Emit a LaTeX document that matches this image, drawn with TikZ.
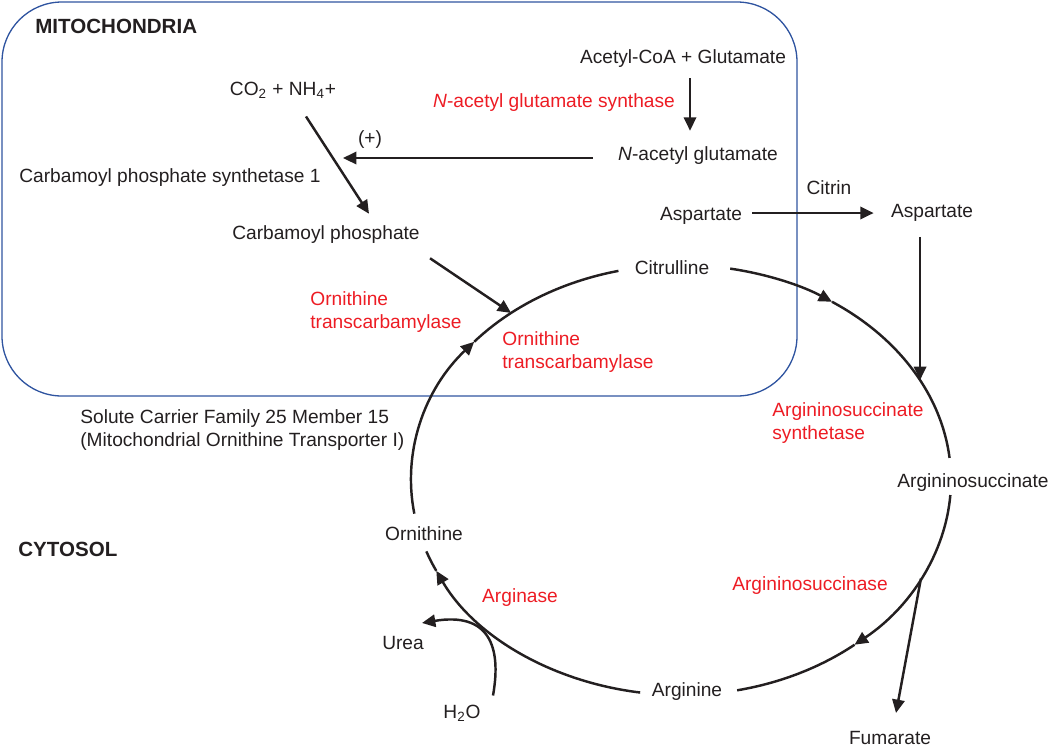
\documentclass[tikz,border=0pt]{standalone}
\usepackage{fontspec}
\setmainfont{Liberation Sans}
\usetikzlibrary{arrows.meta}

\definecolor{enzred}{RGB}{237,28,36}
\definecolor{mitoblue}{RGB}{47,84,160}
\definecolor{ink}{RGB}{35,31,32}

\tikzset{
	lbl/.style={inner sep=0pt, text=ink, font=\fontsize{10.9}{12.8}\selectfont},
	enz/.style={lbl, text=enzred},
	region/.style={lbl, font=\bfseries\fontsize{11.7}{13}\selectfont},
	rxn/.style={-{Triangle[length=7.6pt, width=7pt]}, ink, line width=1.4pt},
	plain/.style={-, ink, line width=1.4pt},
	mito/.style={mitoblue, line width=0.75pt, rounded corners=1.2cm},
	orbit/.style={x radius=270, y radius=215},
}

\begin{document}
\begin{tikzpicture}[x=0.02cm, y=-0.02cm]
	\useasboundingbox (0, 0) rectangle (1050, 748);

	\draw[mito]	(2, 2) rectangle (797, 396);

	\node[region, anchor=west] (mitolbl) at (35, 26) {MITOCHONDRIA};
	\node[region, anchor=west] (cytolbl) at (18, 549) {CYTOSOL};

	\node[lbl] (co2)	at (283, 90) {CO\textsubscript{2} + NH\textsubscript{4}+};
	\node[lbl] (acoa)	at (683, 59) {Acetyl-CoA + Glutamate};
	\node[enz] (nags)	at (554, 103) {\textit{N}-acetyl glutamate synthase};
	\node[lbl] (nag)	at (698, 156) {\textit{N}-acetyl glutamate};
	\node[lbl] (plus)	at (370, 140) {(+)};
	\node[lbl] (cps)	at (170, 178) {Carbamoyl phosphate synthetase 1};
	\node[lbl] (cp)		at (326, 235) {Carbamoyl phosphate};
	\node[lbl] (aspm)	at (701, 216) {Aspartate};
	\node[lbl] (citrin)	at (829, 188) {Citrin};
	\node[lbl] (aspc)	at (932, 213) {Aspartate};
	\node[lbl] (cit)	at (672, 268) {Citrulline};
	\node[enz, anchor=west, align=left] (otcm) at (310, 312) {Ornithine\\transcarbamylase};
	\node[enz, anchor=west, align=left] (otcc) at (502, 352) {Ornithine\\transcarbamylase};
	\node[lbl, anchor=west, align=left] (slc) at (80, 430) {Solute Carrier Family 25 Member 15\\(Mitochondrial Ornithine Transporter I)};
	\node[enz, anchor=west, align=left] (ass) at (772, 423) {Argininosuccinate\\synthetase};
	\node[lbl] (asa)	at (973, 483) {Argininosuccinate};
	\node[lbl] (orn)	at (424, 534) {Ornithine};
	\node[enz] (asl)	at (810, 586) {Argininosuccinase};
	\node[enz] (arg1)	at (520, 598) {Arginase};
	\node[lbl] (urea)	at (403, 643) {Urea};
	\node[lbl] (h2o)	at (462, 713) {H\textsubscript{2}O};
	\node[lbl] (arg)	at (687, 692) {Arginine};
	\node[lbl] (fum)	at (890, 738) {Fumarate};

	\coordinate (cyc) at (681, 480);
	\path (cyc) ++(-129:270 and 215) coordinate (cpin);
	\path (cyc) ++(-27.7:270 and 215) coordinate (aspin);
	\path (cyc) ++(27.3:270 and 215) coordinate (fumout);
	\coordinate (cpsin) at (343, 158);

	\draw[rxn]	(cyc) ++(-79.5:270 and 215) arc[orbit, start angle=-79.5, end angle=-56];
	\draw[plain]	(cyc) ++(-56:270 and 215) arc[orbit, start angle=-56, end angle=-5.9];
	\draw[rxn]	(cyc) ++(4:270 and 215) arc[orbit, start angle=4, end angle=50];
	\draw[plain]	(cyc) ++(50:270 and 215) arc[orbit, start angle=50, end angle=78];
	\draw[rxn]	(cyc) ++(98.7:270 and 215) arc[orbit, start angle=98.7, end angle=155];
	\draw[plain]	(cyc) ++(155:270 and 215) arc[orbit, start angle=155, end angle=160.6];
	\draw[rxn]	(cyc) ++(171:270 and 215) arc[orbit, start angle=171, end angle=220];
	\draw[plain]	(cyc) ++(220:270 and 215) arc[orbit, start angle=220, end angle=256.6];

	\draw[rxn]	([shift={(7, 10)}]acoa.south) to ([shift={(-8, -16)}]nag.north);
	\draw[rxn]	([shift={(-25, 2)}]nag.west) to (cpsin);
	\draw[rxn]	([shift={(23, 18)}]co2.south) to ([shift={(43, -12)}]cp.north);
	\draw[rxn]	([shift={(10, 14)}]cp.south east) to (cpin);
	\draw[rxn]	([shift={(10, -3)}]aspm.east) to ([shift={(-17, 0)}]aspc.west);
	\draw[rxn]	([shift={(0, 15)}]aspin |- aspc.south) to (aspin);
	\draw[rxn]	(fumout) to ([shift={(6, -18)}]fum.north);
	\draw[rxn]	([shift={(31, -9)}]h2o.north) .. controls (502, 645) and (488, 612) .. ([shift={(19, -13)}]urea.north);
\end{tikzpicture}
\end{document}
